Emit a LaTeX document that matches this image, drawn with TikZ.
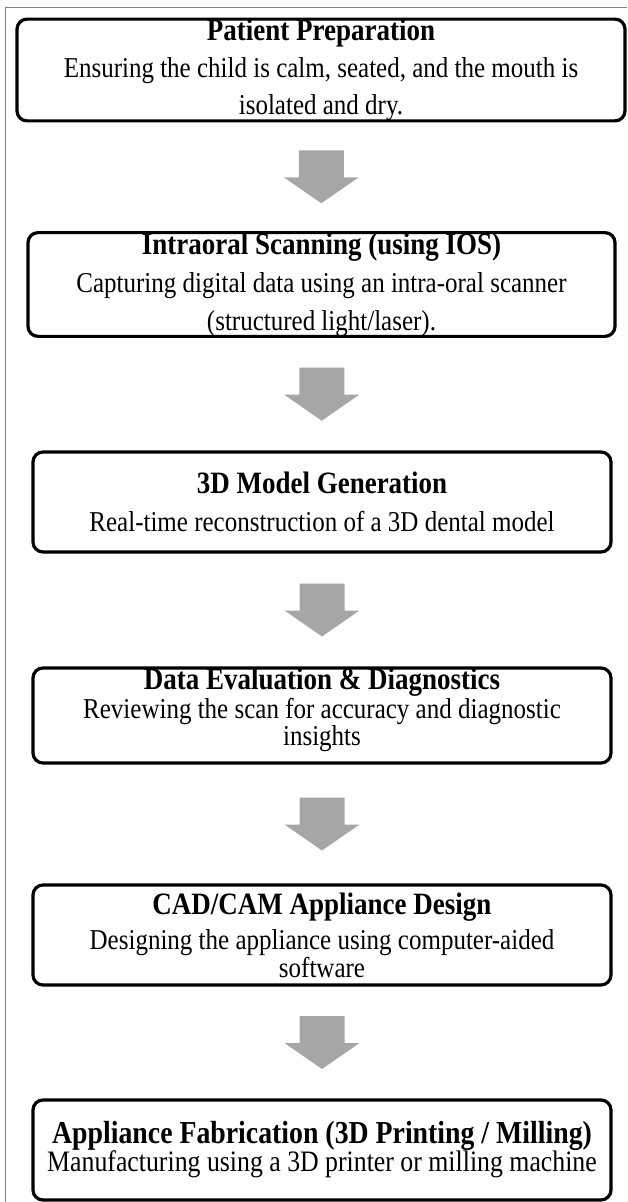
\documentclass[tikz,border=0pt]{standalone}
\usepackage{fontspec}
\usepackage{graphicx}
\setmainfont{Liberation Serif}
\usetikzlibrary{calc}
\definecolor{arrowgrey}{HTML}{A6A6A6}
\definecolor{framegrey}{HTML}{808080}
\tikzset{
  stepbox/.style={draw=black, line width=3.2pt, rounded corners=10pt, fill=white,
    align=center, inner sep=0pt, font=\fontsize{25}{#1}\selectfont},
  stepbox/.default=28,
  blockarrow/.style={fill=arrowgrey, draw=none},
  framerule/.style={draw=framegrey, line width=1pt}
}
\newcommand{\vs}[1]{\scalebox{1}[1.15]{#1}}
\newcommand{\ttl}[1]{\vs{\fontsize{27}{28}\selectfont\bfseries #1}}
\newcommand{\flowarrow}[3]{%
  \path ($(#2.south)!0.5!(#3.north)$) coordinate (#1);
  \path[blockarrow] ($(#1)+(-22.5,-26.5)$) -- ($(#1)+(22.5,-26.5)$) -- ($(#1)+(22.5,0.5)$)
    -- ($(#1)+(37.5,0.5)$) -- ($(#1)+(0,26.5)$) -- ($(#1)+(-37.5,0.5)$) -- ($(#1)+(-22.5,0.5)$) -- cycle;}
\begin{document}
\begin{tikzpicture}[x=1pt,y=-1pt]
\useasboundingbox (0,0) rectangle (627,1202);
\clip (0,0) rectangle (627,1202);
\draw[framerule] (5.5,1210) -- (5.5,7) -- (640,7);

\node[stepbox=37, minimum width=608pt, minimum height=100pt] (b1) at (321,70)
  {\ttl{Patient Preparation}\\\vs{Ensuring the child is calm, seated, and the mouth is}\\\vs{isolated and dry.}};
\node[stepbox=38, minimum width=587pt, minimum height=97pt] (b2) at (321.5,284.5)
  {\ttl{Intraoral Scanning (using IOS)}\\\vs{Capturing digital data using an intra-oral scanner}\\\vs{(structured light/laser).}};
\node[stepbox=38, minimum width=578pt, minimum height=100pt] (b3) at (322,502)
  {\ttl{3D Model Generation}\\\vs{Real-time reconstruction of a 3D dental model}};
\node[stepbox=25, minimum width=578pt, minimum height=95pt] (b4) at (322,715.5)
  {\ttl{Data Evaluation \& Diagnostics}\\[1pt]\vs{Reviewing the scan for accuracy and diagnostic}\\\vs{insights}\\[-8pt]\mbox{}};
\node[stepbox=26, minimum width=578pt, minimum height=100pt] (b5) at (322,935)
  {\ttl{CAD/CAM Appliance Design}\\[8pt]\vs{Designing the appliance using computer-aided}\\\vs{software}};
\node[stepbox=28, minimum width=578pt, minimum height=100pt, font=\fontsize{25.8}{28}\selectfont] (b6) at (322,1150)
  {\vs{\fontsize{27.8}{28}\selectfont\bfseries Appliance Fabrication (3D Printing / Milling)}\\\vs{Manufacturing using a 3D printer or milling machine}};

\flowarrow{a1}{b1}{b2}
\flowarrow{a2}{b2}{b3}
\flowarrow{a3}{b3}{b4}
\flowarrow{a4}{b4}{b5}
\flowarrow{a5}{b5}{b6}
\end{tikzpicture}
\end{document}
